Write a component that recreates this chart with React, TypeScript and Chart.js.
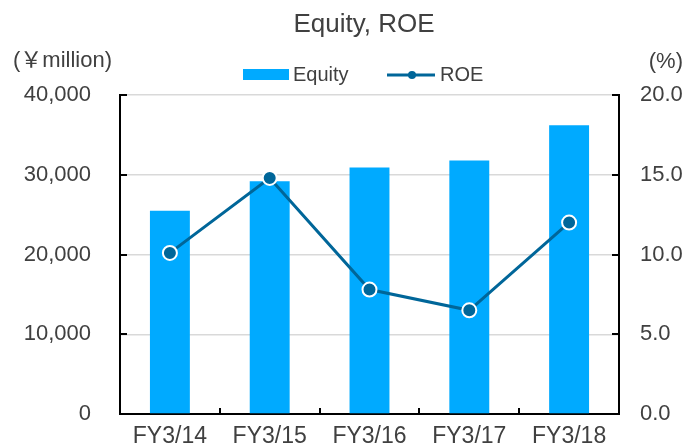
import React, { useEffect, useRef } from "react";
import { Chart, registerables } from "chart.js";

Chart.register(...registerables);

const categories = ["FY3/14", "FY3/15", "FY3/16", "FY3/17", "FY3/18"];
const equityValues = [25500, 29200, 30900, 31800, 36200];
const roeValues = [10.1, 14.8, 7.8, 6.5, 12.0];
const leftTicks = [0, 10000, 20000, 30000, 40000];
const rightTicks = [0, 5, 10, 15, 20];

const TITLE = "Equity, ROE";
const LEFT_UNIT = "(￥million)";
const RIGHT_UNIT = "(%)";

const BAR_COLOR = "#00AAFF";
const LINE_COLOR = "#006699";
const TEXT_COLOR = "#404040";
const FONT = "'Liberation Sans', Arial, 'Noto Sans CJK JP', sans-serif";

const decorPlugin = {
  id: "decor",
  afterDraw(chart: any) {
    const ctx = chart.ctx;
    const area = chart.chartArea;
    ctx.save();
    // title
    ctx.fillStyle = TEXT_COLOR;
    ctx.textBaseline = "middle";
    ctx.textAlign = "center";
    ctx.font = `26px ${FONT}`;
    ctx.fillText(TITLE, 364, 25);
    // unit labels
    ctx.font = `22px ${FONT}`;
    ctx.textAlign = "left";
    ctx.fillText(LEFT_UNIT, 13, 61);
    ctx.textAlign = "right";
    ctx.fillText(RIGHT_UNIT, 683, 62);
    // legend
    ctx.fillStyle = BAR_COLOR;
    ctx.fillRect(243, 69, 46, 11);
    ctx.fillStyle = TEXT_COLOR;
    ctx.font = `20px ${FONT}`;
    ctx.textAlign = "left";
    ctx.fillText(chart.data.datasets[0].label, 293, 75);
    ctx.strokeStyle = LINE_COLOR;
    ctx.lineWidth = 3;
    ctx.beginPath();
    ctx.moveTo(387, 75);
    ctx.lineTo(435, 75);
    ctx.stroke();
    ctx.fillStyle = LINE_COLOR;
    ctx.beginPath();
    ctx.arc(412, 75, 4, 0, Math.PI * 2);
    ctx.fill();
    ctx.fillStyle = TEXT_COLOR;
    ctx.fillText(chart.data.datasets[1].label, 440, 75);

    // inward tick marks
    ctx.strokeStyle = "#000000";
    ctx.lineWidth = 2;
    const yl = chart.scales.y;
    const yr = chart.scales.y1;
    const xs = chart.scales.x;
    yl.ticks.forEach((t: any) => {
      const p = Math.round(yl.getPixelForValue(t.value));
      ctx.beginPath();
      ctx.moveTo(area.left, p);
      ctx.lineTo(area.left + 7, p);
      ctx.stroke();
    });
    yr.ticks.forEach((t: any) => {
      const p = Math.round(yr.getPixelForValue(t.value));
      ctx.beginPath();
      ctx.moveTo(area.right - 7, p);
      ctx.lineTo(area.right, p);
      ctx.stroke();
    });
    for (let i = 0; i < categories.length - 1; i++) {
      const p = Math.round((xs.getPixelForTick(i) + xs.getPixelForTick(i + 1)) / 2);
      ctx.beginPath();
      ctx.moveTo(p, area.bottom - 6);
      ctx.lineTo(p, area.bottom);
      ctx.stroke();
    }
    ctx.restore();
  },
};

export default function App() {
  const ref = useRef<HTMLCanvasElement | null>(null);
  useEffect(() => {
    if (!ref.current) return;
    const chart = new Chart(ref.current, {
      type: "bar",
      data: {
        labels: categories,
        datasets: [
          {
            type: "bar",
            label: "Equity",
            data: equityValues,
            backgroundColor: BAR_COLOR,
            yAxisID: "y",
            order: 1,
            categoryPercentage: 0.8,
            barPercentage: 0.5,
          },
          {
            type: "line",
            label: "ROE",
            data: roeValues,
            borderColor: LINE_COLOR,
            backgroundColor: LINE_COLOR,
            borderWidth: 3,
            pointRadius: 7,
            pointHoverRadius: 7,
            pointBackgroundColor: LINE_COLOR,
            pointBorderColor: "#ffffff",
            pointBorderWidth: 2,
            yAxisID: "y1",
            order: 0,
            tension: 0,
          },
        ] as any,
      },
      options: {
        responsive: false,
        animation: false,
        layout: { padding: { top: 95, left: 0, right: 0, bottom: 0 } },
        plugins: {
          legend: { display: false },
          title: { display: false },
          tooltip: { enabled: false },
        },
        scales: {
          x: {
            offset: true,
            grid: { display: false, drawTicks: false },
            border: { display: true, color: "#000000", width: 2 },
            ticks: {
              color: TEXT_COLOR,
              font: { family: FONT, size: 23 },
              padding: 9,
              maxRotation: 0,
              autoSkip: false,
            },
            afterFit(scale: any) {
              scale.height = 34;
              scale.paddingLeft = 0;
              scale.paddingRight = 0;
            },
          },
          y: {
            position: "left",
            min: 0,
            max: 40000,
            afterBuildTicks(scale: any) {
              scale.ticks = leftTicks.map((v) => ({ value: v }));
            },
            grid: { color: "#d9d9d9", lineWidth: 1.5, drawTicks: false },
            border: { display: true, color: "#000000", width: 2 },
            ticks: {
              color: TEXT_COLOR,
              font: { family: FONT, size: 22 },
              padding: 29,
              callback: (v: any) => Number(v).toLocaleString("en-US"),
            },
            afterFit(scale: any) {
              scale.width = 120;
              scale.paddingTop = 0;
              scale.paddingBottom = 0;
            },
          },
          y1: {
            position: "right",
            min: 0,
            max: 20,
            afterBuildTicks(scale: any) {
              scale.ticks = rightTicks.map((v) => ({ value: v }));
            },
            grid: { display: false, drawTicks: false },
            border: { display: true, color: "#000000", width: 2 },
            ticks: {
              color: TEXT_COLOR,
              font: { family: FONT, size: 22 },
              padding: 21,
              callback: (v: any) => Number(v).toFixed(1),
            },
            afterFit(scale: any) {
              scale.width = 68;
              scale.paddingTop = 0;
              scale.paddingBottom = 0;
            },
          },
        },
      } as any,
      plugins: [decorPlugin],
    });
    return () => chart.destroy();
  }, []);
  return (
    <div style={{ position: "fixed", left: 0, top: 0, width: 687, height: 448, background: "#ffffff" }}>
      <canvas ref={ref} width={687} height={448} style={{ display: "block" }} />
    </div>
  );
}
